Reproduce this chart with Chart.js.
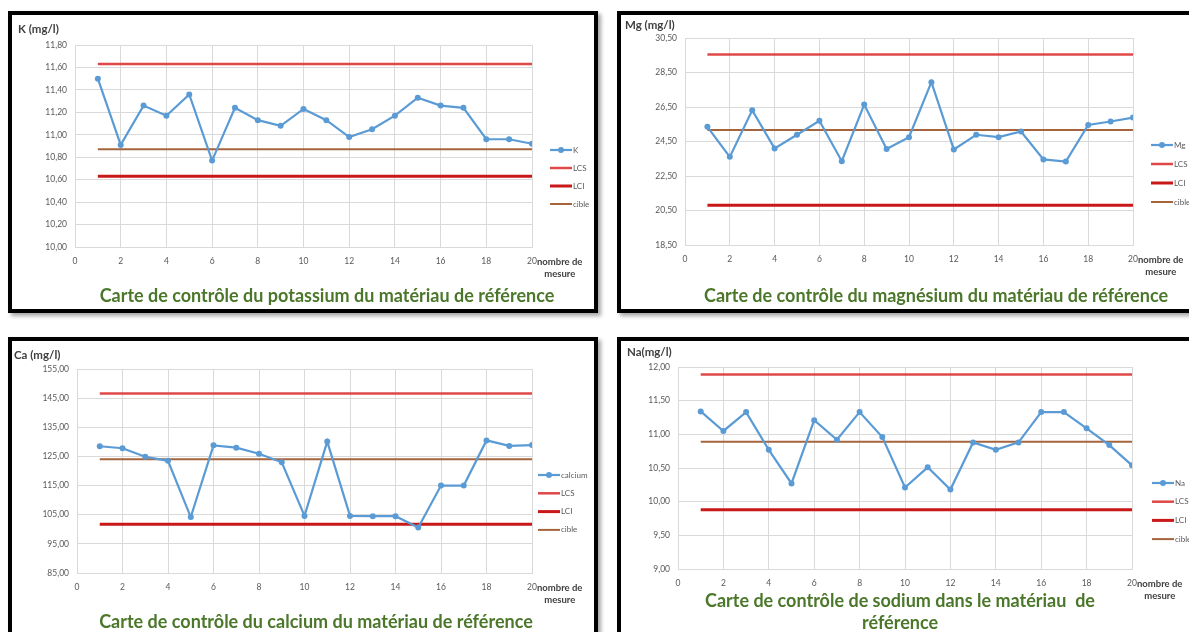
<!DOCTYPE html>
<html>
<head>
<meta charset="utf-8">
<script src="https://cdn.jsdelivr.net/npm/chart.js@4.4.1/dist/chart.umd.min.js"></script>
<style>
body{margin:0;background:#fff;width:1189px;height:632px;overflow:hidden;position:relative}
.box{position:absolute;border:4px solid #000;background:#fff;box-shadow:3px 3px 4px rgba(0,0,0,.35);width:582px;height:294px}
.box canvas{display:block}
</style>
</head>
<body>
<div class="box" style="left:8px;top:11px"><canvas id="cK" width="582" height="294"></canvas></div>
<div class="box" style="left:617px;top:11px"><canvas id="cMg" width="582" height="294"></canvas></div>
<div class="box" style="left:8px;top:337px"><canvas id="cCa" width="582" height="294"></canvas></div>
<div class="box" style="left:617px;top:337px"><canvas id="cNa" width="582" height="294"></canvas></div>
<script>
// numéros de mesure (axe x)
var mesures = [1,2,3,4,5,6,7,8,9,10,11,12,13,14,15,16,17,18,19,20];
var xTicks = [0,2,4,6,8,10,12,14,16,18,20];
var series = ['LCS','LCI','cible'];

// potassium
var kValeurs = [11.50,10.91,11.26,11.17,11.36,10.77,11.24,11.13,11.08,11.23,11.13,10.98,11.05,11.17,11.33,11.26,11.24,10.96,10.96,10.92];
var kLimites = [11.63,10.63,10.87];
var kTicks = [10.00,10.20,10.40,10.60,10.80,11.00,11.20,11.40,11.60,11.80];

// magnésium
var mgValeurs = [25.35,23.61,26.31,24.10,24.89,25.70,23.36,26.64,24.07,24.75,27.94,24.04,24.89,24.75,25.08,23.46,23.34,25.46,25.66,25.89];
var mgLimites = [29.54,20.80,25.16];
var mgTicks = [18.50,20.50,22.50,24.50,26.50,28.50,30.50];

// calcium
var caValeurs = [128.5,127.8,124.9,123.5,104.2,128.8,128.0,125.9,123.0,104.6,130.1,104.6,104.5,104.5,100.6,115.0,115.0,130.5,128.6,128.9];
var caLimites = [146.6,101.7,124.0];
var caTicks = [85,95,105,115,125,135,145,155];

// sodium
var naValeurs = [11.34,11.05,11.33,10.77,10.27,11.21,10.92,11.33,10.96,10.21,10.51,10.18,10.88,10.77,10.88,11.33,11.33,11.09,10.84,10.54];
var naLimites = [11.89,9.88,10.89];
var naTicks = [9.00,9.50,10.00,10.50,11.00,11.50,12.00];

var couleurs = ['#e04848','#c81818','#a5643c'];
var epaisseurs = [2.5,3,2];
var police = 'Lato, Calibri, sans-serif';

var deco = {
  id: 'deco',
  afterDraw: function(chart, args, o) {
    var ctx = chart.ctx, a = chart.chartArea;
    ctx.save();
    ctx.textBaseline = 'middle';
    // titre axe y
    ctx.font = 'bold 11.5px ' + police;
    ctx.fillStyle = '#404040';
    ctx.textAlign = 'left';
    ctx.fillText(o.yTitre, o.yTitreX, a.top - o.yTitreDy);
    // titre axe x
    ctx.font = 'bold 9.5px ' + police;
    var tx = a.right + 5, ty = a.bottom + 15;
    var w = ctx.measureText('nombre de').width;
    ctx.fillText('nombre de', tx, ty);
    ctx.textAlign = 'center';
    ctx.fillText('mesure', tx + w / 2, ty + 12);
    // légende
    ctx.font = '8px ' + police;
    ctx.textAlign = 'left';
    chart.data.datasets.forEach(function(ds, i) {
      var y = a.top + o.legY + i * o.legDy, x0 = a.right + o.legDx;
      ctx.strokeStyle = ds.borderColor;
      ctx.lineWidth = ds.borderWidth;
      ctx.beginPath(); ctx.moveTo(x0, y); ctx.lineTo(x0 + 22, y); ctx.stroke();
      if (ds.pointRadius > 0) {
        ctx.fillStyle = ds.borderColor;
        ctx.beginPath(); ctx.arc(x0 + 11, y, ds.pointRadius, 0, Math.PI * 2); ctx.fill();
      }
      ctx.fillStyle = '#595959';
      ctx.fillText(ds.label, x0 + 23, y);
    });
    // titre du graphique
    ctx.font = 'bold 18px ' + police;
    ctx.fillStyle = '#4b772a';
    ctx.textAlign = 'center';
    o.titre.forEach(function(t, i) { ctx.fillText(t, o.titreX, o.titreY + i * 22); });
    ctx.restore();
  }
};

function virgule(v) { return v.toFixed(2).replace('.', ','); }

function carte(id, nom, valeurs, limites, ticks, zone, d) {
  var points = function(arr) { return mesures.map(function(m, i) { return {x: m, y: arr[i]}; }); };
  var datasets = [{
    label: nom, data: points(valeurs), borderColor: '#5b9bd5', backgroundColor: '#5b9bd5',
    borderWidth: 2.2, pointRadius: 3, pointBorderWidth: 0, pointBackgroundColor: '#5b9bd5'
  }];
  limites.forEach(function(v, i) {
    datasets.push({
      label: series[i], data: mesures.map(function(m) { return {x: m, y: v}; }),
      borderColor: couleurs[i], borderWidth: epaisseurs[i], pointRadius: 0
    });
  });
  var W = 582, H = 294;
  new Chart(document.getElementById(id), {
    type: 'line',
    data: {datasets: datasets},
    plugins: [deco],
    options: {
      responsive: false, animation: false, devicePixelRatio: 1,
      layout: {padding: {top: zone[2], right: W - zone[1], left: 0, bottom: 0}},
      plugins: {legend: {display: false}, tooltip: {enabled: false}, deco: d},
      scales: {
        x: {
          type: 'linear', min: 0, max: 20,
          afterFit: function(s) { s.height = H - zone[3]; },
          afterBuildTicks: function(s) { s.ticks = xTicks.map(function(v) { return {value: v}; }); },
          grid: {color: '#d9d9d9', drawTicks: false},
          border: {color: '#d9d9d9'},
          ticks: {padding: 9, color: '#595959', font: {family: police, size: 8.5}}
        },
        y: {
          min: ticks[0], max: ticks[ticks.length - 1],
          afterFit: function(s) { s.width = zone[0]; },
          afterBuildTicks: function(s) { s.ticks = ticks.map(function(v) { return {value: v}; }); },
          grid: {color: '#d9d9d9', drawTicks: false},
          border: {color: '#d9d9d9'},
          ticks: {padding: 8, color: '#595959', font: {family: police, size: 8.5}, callback: virgule}
        }
      }
    }
  });
}

carte('cK', 'K', kValeurs, kLimites, kTicks, [63, 520, 30, 232],
  {yTitre: 'K (mg/l)', yTitreX: 6, yTitreDy: 16, legDx: 18, legY: 105, legDy: 18,
   titre: ['Carte de contrôle du potassium du matériau de référence'], titreX: 315, titreY: 281});
carte('cMg', 'Mg', mgValeurs, mgLimites, mgTicks, [64, 512, 23, 230],
  {yTitre: 'Mg (mg/l)', yTitreX: 4, yTitreDy: 13, legDx: 18, legY: 107, legDy: 19,
   titre: ['Carte de contrôle du magnésium du matériau de référence'], titreX: 315, titreY: 281});
carte('cCa', 'calcium', caValeurs, caLimites, caTicks, [65, 520, 28, 232],
  {yTitre: 'Ca (mg/l)', yTitreX: 2, yTitreDy: 14, legDx: 6, legY: 106, legDy: 18.3,
   titre: ['Carte de contrôle du calcium du matériau de référence'], titreX: 304, titreY: 281});
carte('cNa', 'Na', naValeurs, naLimites, naTicks, [57, 511, 26, 228],
  {yTitre: 'Na(mg/l)', yTitreX: 6, yTitreDy: 14.5, legDx: 20, legY: 116, legDy: 18.7,
   titre: ['Carte de contrôle de sodium dans le matériau  de', 'référence'], titreX: 279, titreY: 260});
</script>
</body>
</html>
